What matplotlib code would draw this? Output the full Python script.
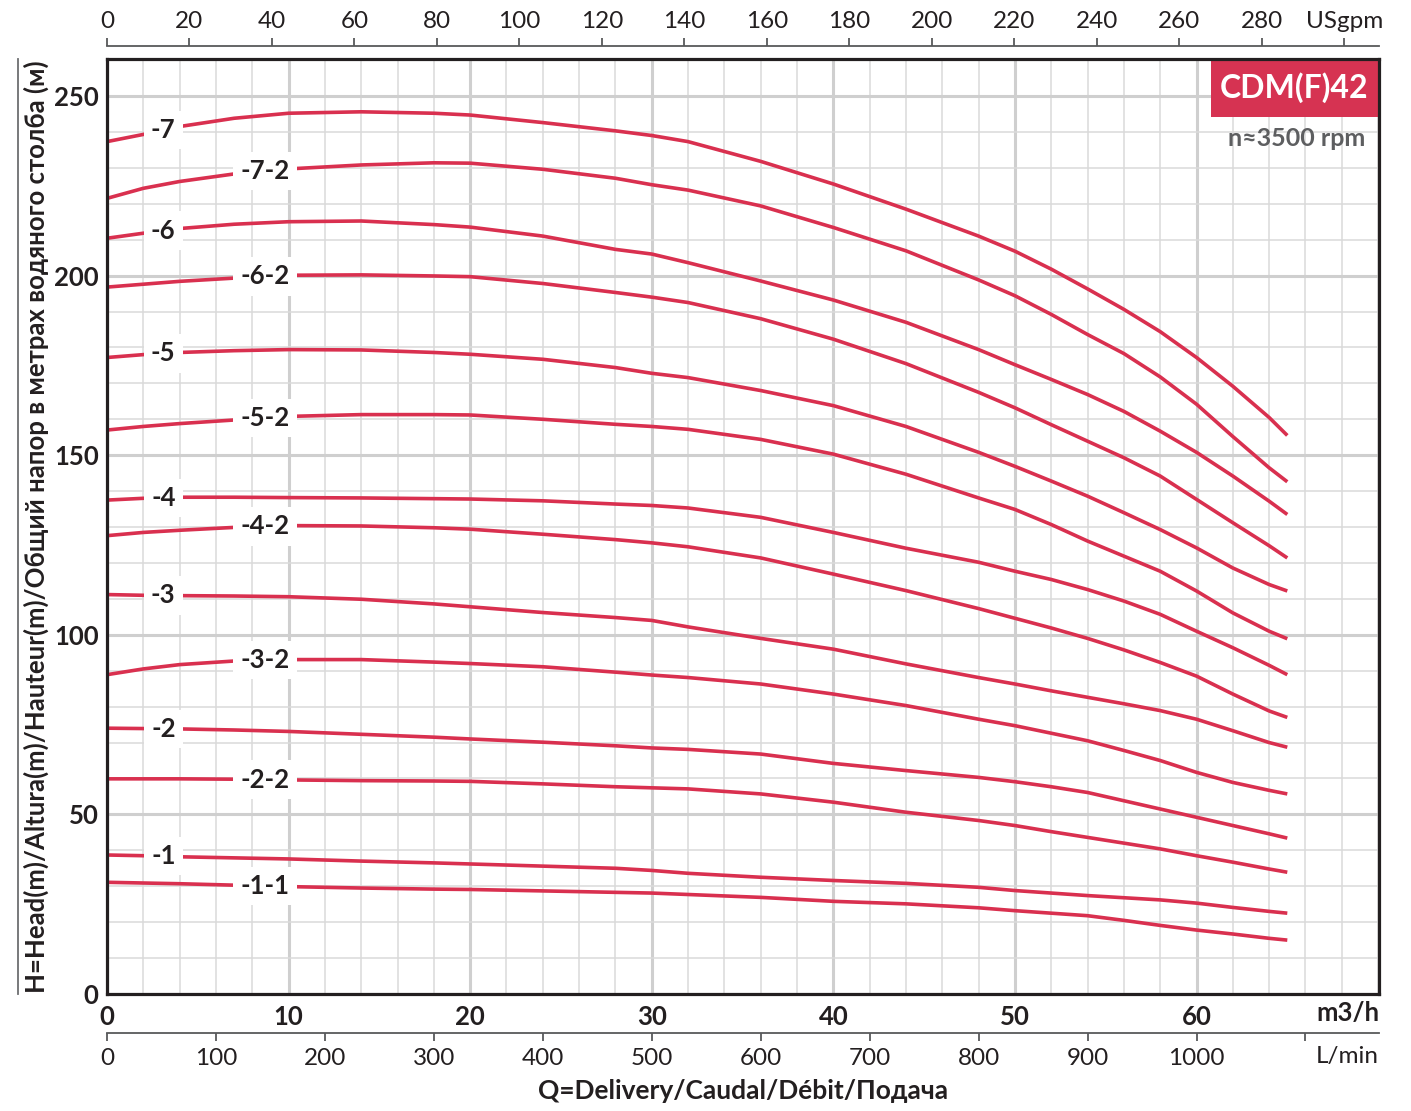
import numpy as np
import matplotlib
matplotlib.use('Agg')
import matplotlib.pyplot as plt
from matplotlib.patches import Rectangle

plt.rcParams['font.family'] = ['Lato', 'DejaVu Sans']

# ---------------- data ----------------
flow = [0, 2, 4, 7, 10, 14, 18, 20, 24, 28, 30, 32, 36, 40, 44, 48, 50, 52, 54, 56, 58, 60, 62, 64, 65]

head_7   = [237.3, 239.3, 241.5, 243.8, 245.2, 245.6, 245.2, 244.7, 242.6, 240.3, 239.0, 237.3, 231.8, 225.5, 218.5, 211.0, 206.8, 201.8, 196.3, 190.6, 184.4, 177.2, 169.2, 160.5, 155.5]
head_7_2 = [221.5, 224.3, 226.2, 228.3, 229.7, 230.8, 231.4, 231.3, 229.6, 227.1, 225.3, 223.8, 219.4, 213.4, 206.9, 198.8, 194.4, 189.2, 183.6, 178.3, 171.8, 164.2, 155.2, 146.5, 142.6]
head_6   = [210.4, 211.8, 213.1, 214.3, 215.0, 215.2, 214.2, 213.5, 211.0, 207.3, 206.0, 203.6, 198.5, 193.2, 187.0, 179.4, 175.2, 171.1, 166.9, 162.2, 156.7, 150.8, 144.2, 137.2, 133.5]
head_6_2 = [196.8, 197.6, 198.4, 199.3, 200.1, 200.2, 199.9, 199.7, 197.8, 195.3, 194.0, 192.5, 188.0, 182.3, 175.5, 167.5, 163.2, 158.5, 153.9, 149.3, 144.2, 137.7, 131.2, 124.8, 121.4]
head_5   = [177.2, 178.0, 178.6, 179.1, 179.4, 179.3, 178.6, 178.1, 176.7, 174.4, 172.8, 171.6, 168.0, 163.8, 158.0, 150.8, 146.9, 142.8, 138.6, 134.0, 129.3, 124.2, 118.6, 114.0, 112.2]
head_5_2 = [157.0, 158.0, 158.8, 159.8, 160.8, 161.3, 161.3, 161.2, 160.0, 158.6, 158.0, 157.2, 154.4, 150.3, 144.7, 138.1, 134.9, 130.7, 126.1, 121.9, 117.7, 112.2, 106.1, 101.0, 98.9]
head_4   = [137.5, 138.0, 138.3, 138.3, 138.2, 138.1, 137.9, 137.8, 137.3, 136.4, 136.0, 135.3, 132.7, 128.5, 124.1, 120.2, 117.7, 115.4, 112.6, 109.4, 105.7, 101.0, 96.4, 91.5, 88.9]
head_4_2 = [127.6, 128.5, 129.1, 129.9, 130.4, 130.3, 129.8, 129.4, 128.0, 126.5, 125.6, 124.5, 121.4, 116.9, 112.3, 107.3, 104.6, 101.9, 99.0, 95.8, 92.3, 88.5, 83.5, 78.8, 77.0]
head_3   = [111.2, 111.0, 110.9, 110.8, 110.6, 109.9, 108.6, 107.8, 106.2, 104.8, 104.0, 102.2, 99.0, 96.0, 91.9, 88.1, 86.3, 84.4, 82.6, 80.8, 78.9, 76.5, 73.3, 70.0, 68.7]
head_3_2 = [88.9, 90.5, 91.7, 92.7, 93.1, 93.1, 92.4, 92.0, 91.1, 89.6, 88.8, 88.1, 86.3, 83.5, 80.3, 76.5, 74.7, 72.6, 70.5, 67.8, 65.0, 61.7, 58.9, 56.7, 55.7]
head_2   = [74.0, 73.9, 73.8, 73.5, 73.1, 72.3, 71.5, 71.0, 70.1, 69.1, 68.5, 68.1, 66.8, 64.2, 62.2, 60.3, 59.1, 57.7, 56.1, 53.8, 51.5, 49.2, 46.9, 44.6, 43.4]
head_2_2 = [59.9, 59.9, 59.9, 59.8, 59.6, 59.4, 59.3, 59.2, 58.5, 57.7, 57.4, 57.1, 55.7, 53.4, 50.6, 48.3, 46.9, 45.2, 43.6, 42.0, 40.4, 38.5, 36.7, 34.8, 33.9]
head_1   = [38.7, 38.5, 38.2, 37.9, 37.6, 37.0, 36.5, 36.2, 35.6, 35.0, 34.4, 33.6, 32.5, 31.6, 30.8, 29.7, 28.8, 28.1, 27.4, 26.8, 26.2, 25.3, 24.1, 23.0, 22.5]
head_1_1 = [31.1, 30.9, 30.7, 30.3, 29.9, 29.5, 29.2, 29.1, 28.7, 28.3, 28.1, 27.7, 26.9, 25.8, 25.1, 24.0, 23.2, 22.5, 21.8, 20.5, 19.1, 17.8, 16.7, 15.5, 15.0]

curve_names = ['-7', '-7-2', '-6', '-6-2', '-5', '-5-2', '-4', '-4-2',
               '-3', '-3-2', '-2', '-2-2', '-1', '-1-1']
curve_heads = [head_7, head_7_2, head_6, head_6_2, head_5, head_5_2, head_4, head_4_2,
               head_3, head_3_2, head_2, head_2_2, head_1, head_1_1]

m3h_ticks = [0, 10, 20, 30, 40, 50, 60]
head_ticks = [0, 50, 100, 150, 200, 250]
usgpm_ticks = [0, 20, 40, 60, 80, 100, 120, 140, 160, 180, 200, 220, 240, 260, 280, 300]
usgpm_labels = ['0', '20', '40', '60', '80', '100', '120', '140', '160', '180', '200',
                '220', '240', '260', '280', 'USgpm']
lmin_ticks = [0, 100, 200, 300, 400, 500, 600, 700, 800, 900, 1000, 1100]
lmin_labels = ['0', '100', '200', '300', '400', '500', '600', '700', '800', '900', '1000', '']

title_text = 'CDM(F)42'
speed_text = 'n≈3500 rpm'
ylabel_text = 'H=Head(m)/Altura(m)/Hauteur(m)/Общий напор в метрах водяного столба (м)'
xlabel_text = 'Q=Delivery/Caudal/Débit/Подача'

# ---------------- style ----------------
RED = '#d9304f'
BOX = '#d63352'
DARK = '#231f20'
GRAY = '#5d5e60'

W, H = 1411, 1111
fig = plt.figure(figsize=(W / 100, H / 100), dpi=100)
ax_l, ax_r, ax_t, ax_b = 107, 1379, 59, 994
ax = fig.add_axes([ax_l / W, (H - ax_b) / H, (ax_r - ax_l) / W, (ax_b - ax_t) / H])
ax_h = ax_b - ax_t

ax.set_xlim(0, 70.05)
ax.set_ylim(0, 260.3)

# grid
ax.set_xticks(m3h_ticks)
ax.set_xticks(np.arange(0, 71, 2), minor=True)
ax.set_yticks(head_ticks)
ax.set_yticks(np.arange(0, 261, 10), minor=True)
ax.grid(which='minor', color='#dadada', linewidth=1.1, zorder=0)
ax.grid(which='major', color='#cfcfcf', linewidth=2.2, zorder=0)
ax.set_axisbelow(True)

ax.set_xticklabels([str(t) for t in m3h_ticks], fontweight='bold', fontsize=18.5, color=DARK)
ax.set_yticklabels([str(t) for t in head_ticks], fontweight='bold', fontsize=18.5, color=DARK)
ax.tick_params(axis='both', which='both', length=0)
ax.tick_params(axis='x', pad=8)
ax.tick_params(axis='y', pad=6)

for s in ax.spines.values():
    s.set_linewidth(2.3)
    s.set_color(DARK)
    s.set_zorder(6)

# curves
for name, head in zip(curve_names, curve_heads):
    ax.plot(flow, head, color=RED, linewidth=2.6, solid_capstyle='butt',
            solid_joinstyle='round', zorder=3)
    lx = 3.1 if name.count('-') == 1 else 8.7
    ly = np.interp(lx, flow, head)
    ax.text(lx, ly, name, ha='center', va='center', fontsize=18.5, fontweight='bold',
            color=DARK, zorder=5,
            bbox=dict(boxstyle='square,pad=0.28', fc='white', ec='none'))

# title box
ax.add_patch(Rectangle((0.868, 0.938), 0.1315, 0.062, transform=ax.transAxes,
                       facecolor=BOX, edgecolor='none', zorder=5, clip_on=False))
ax.text(0.9335, 0.969, title_text, transform=ax.transAxes, ha='center', va='center',
        fontsize=23, fontweight='bold', color='white', zorder=6)
ax.text(0.989, 0.9155, speed_text, transform=ax.transAxes, ha='right', va='center',
        fontsize=18, fontweight='bold', color=GRAY, zorder=6)

# top USgpm axis
top = ax.secondary_xaxis(1 + 13 / ax_h, functions=(lambda q: q * 4.40287, lambda g: g / 4.40287))
top.set_xticks(usgpm_ticks, usgpm_labels)
top.tick_params(axis='x', direction='out', length=6, width=1.3, color='#58595b',
                labelsize=17.5, labelcolor=DARK, pad=4)
for s in top.spines.values():
    s.set_color('#58595b')
    s.set_linewidth(1.3)

# bottom L/min axis
bot = ax.secondary_xaxis(-39 / ax_h, functions=(lambda q: q * 1000 / 60, lambda l: l * 60 / 1000))
bot.set_xticks(lmin_ticks, lmin_labels)
bot.tick_params(axis='x', direction='out', length=6, width=1.3, color='#58595b',
                labelsize=17.5, labelcolor=DARK, pad=5)
for s in bot.spines.values():
    s.set_color('#58595b')
    s.set_linewidth(1.3)

ax.text(1.0, (ax_b - 1013) / ax_h, 'm3/h', transform=ax.transAxes, ha='right', va='center',
        fontsize=18.5, fontweight='bold', color=DARK)
ax.text(1.0, (ax_b - 1056) / ax_h, 'L/min', transform=ax.transAxes, ha='right', va='center',
        fontsize=17.5, color=DARK)

# axis titles
ax.text(0.5, (ax_b - 1091) / ax_h, xlabel_text, transform=ax.transAxes, ha='center', va='center',
        fontsize=19, fontweight='bold', color=DARK)
ax.text((36 - ax_l) / (ax_r - ax_l), 0.5, ylabel_text, transform=ax.transAxes, rotation=90,
        ha='center', va='center', fontsize=18.5, fontweight='bold', color=DARK)
ax.plot([(18 - ax_l) / (ax_r - ax_l)] * 2, [0, 1.0], transform=ax.transAxes, clip_on=False,
        color='#6d6e71', linewidth=1.3)

fig.savefig('out.png', dpi=100)
